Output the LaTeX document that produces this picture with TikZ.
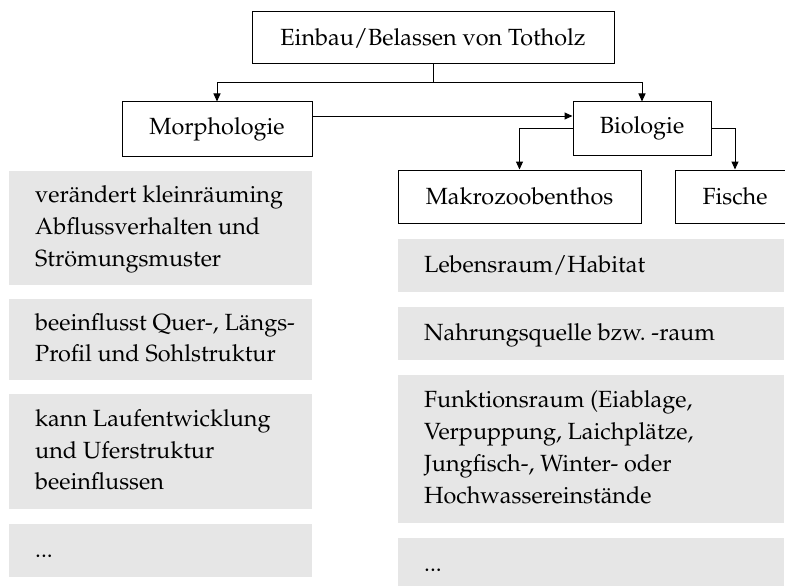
\documentclass[tikz,border=0pt]{standalone}
\usepackage[T1]{fontenc}
\usepackage{mathpazo}
\usetikzlibrary{arrows.meta}
\definecolor{boxgrey}{RGB}{230,230,230}
\begin{document}
\begin{tikzpicture}[x=1pt,y=-1pt,
  font=\fontsize{23.4}{31.7}\selectfont\frenchspacing,
  framebox/.style={draw=black, line width=1pt, fill=white, inner sep=0pt, align=center},
  greybox/.style={fill=boxgrey, draw=none, anchor=north west, inner sep=0pt},
  txt/.style={anchor=west, inner sep=0pt, align=left},
  arr/.style={line width=1pt, -{Triangle[length=8pt,width=7pt]}},
  conn/.style={line width=1pt}]
\clip (0,0) rectangle (785,586);
\fill[white] (0,0) rectangle (785,586);
% framed boxes
\node[framebox, minimum width=362pt, minimum height=52pt] (top) at (433,38) {Einbau/Belassen von Totholz};
\node[framebox, minimum width=190pt, minimum height=54pt] (morph) at (217,129) {Morphologie};
\node[framebox, minimum width=138pt, minimum height=53pt] (bio) at (642,128.5) {Biologie};
\node[framebox, minimum width=243pt, minimum height=53pt] (makro) at (519.5,196.5) {Makrozoobenthos};
\node[framebox, minimum width=120pt, minimum height=53pt] (fische) at (735,196.5) {Fische};
% grey boxes left
\node[greybox, minimum width=303pt, minimum height=114pt] (l1) at (9,171) {};
\node[greybox, minimum width=303pt, minimum height=81pt] (l2) at (9,299) {};
\node[greybox, minimum width=303pt, minimum height=115pt] (l3) at (9,394) {};
\node[greybox, minimum width=303pt, minimum height=53pt] (l4) at (9,524) {};
\node[txt] (l1t) at ([xshift=26pt]l1.west) {\strut verändert kleinräuming\\Abflussverhalten und\\Strömungsmuster\strut};
\node[txt] (l2t) at ([xshift=26pt]l2.west) {\strut beeinflusst Quer-, Längs-\\Profil und Sohlstruktur\strut};
\node[txt] (l3t) at ([xshift=26pt]l3.west) {\strut kann Laufentwicklung\\und Uferstruktur\\beeinflussen\strut};
\node[txt] (l4t) at ([xshift=26pt]l4.west) {\strut...\strut};
% grey boxes right
\node[greybox, minimum width=386pt, minimum height=53pt] (r1) at (398,239) {};
\node[greybox, minimum width=386pt, minimum height=53pt] (r2) at (398,307) {};
\node[greybox, minimum width=386pt, minimum height=148pt] (r3) at (398,375) {};
\node[greybox, minimum width=386pt, minimum height=53pt] (r4) at (398,538) {};
\node[txt] (r1t) at ([xshift=26pt]r1.west) {\strut Lebensraum/Habitat\strut};
\node[txt] (r2t) at ([xshift=26pt]r2.west) {\strut Nahrungsquelle bzw. -raum\strut};
\node[txt] (r3t) at ([xshift=26pt]r3.west) {\strut Funktionsraum (Eiablage,\\Verpuppung, Laichplätze,\\Jungfisch-, Winter- oder\\Hochwassereinstände\strut};
\node[txt] (r4t) at ([xshift=26pt]r4.west) {\strut...\strut};
% connectors
\coordinate (j) at (433,83);
\draw[conn] (top.south) -- (j);
\draw[arr] (j) -| (morph.north);
\draw[arr] (j) -| (bio.north);
\draw[arr] (morph.east |- 0,116) -- (bio.west |- 0,116);
\draw[arr] (bio.west) -| (makro.north);
\draw[arr] (bio.east) -| (fische.north);
\end{tikzpicture}
\end{document}
